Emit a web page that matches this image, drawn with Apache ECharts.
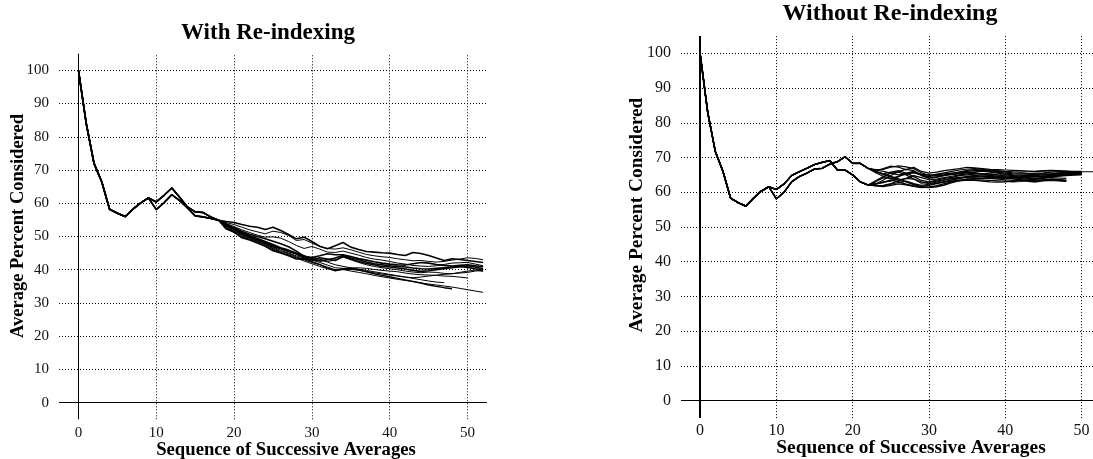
<!DOCTYPE html>
<html>
<head>
<meta charset="utf-8">
<script src="https://cdn.jsdelivr.net/npm/echarts@6/dist/echarts.min.js"></script>
<style>
html,body{margin:0;padding:0;background:#fff;}
#chart{width:1093px;height:459px;}
</style>
</head>
<body>
<div id="chart"></div>
<script>
// ---------- data ----------
const xTickValues = [0, 10, 20, 30, 40, 50];
const yTickValues = [0, 10, 20, 30, 40, 50, 60, 70, 80, 90, 100];

// Left panel: "With Re-indexing"
const leftCommon  = [100, 84, 72, 66.4, 58.2, 57, 56, 58.2, 60.1, 61.6];      // x = 0..9
const leftBranchA = [60.4, 62.4, 64.6, 61.8, 58.9, 57.4, 57.2, 55.9];          // x = 10..17
const leftBranchB = [58.1, 60.2, 62.6, 60.8, 58.6, 56.2, 55.9, 55.4];          // x = 10..17
// tails start at x = 18
const leftTail1  = [54.9,54.5,54.2,53.6,53.1,52.8,52.1,52.8,51.8,50.6,49.3,49.8,48.5,47.1,46.3,47.2,48.2,46.8,46.1,45.5,45.3,45.1,45,44.6,44.3,45.2,44.9,44.3,43.5,42.8,43.3,43.1,42.8,42.5,42.2];
const leftTail2  = [54.9,54.2,53.6,52.8,52,51.4,50.8,51.6,51.2,50.3,48.8,49.1,48,47,46.4,46.2,46.6,46,45.3,44.6,44.2,43.9,43.7,43.3,43,42.7,42.8,42.5,42.3,42.5,42.9,43.2,43.6,43.4,43];
const leftTail3  = [54.9,53.9,53,52,51.2,50.4,49.8,49.9,49.5,48.5,47.3,46.4,47,46.2,45.3,45.2,45.6,45,44.4,43.7,43.2,42.9,42.5,42,41.7,41.3,41.1,41,41.2,41.6,42,42.1,42.2,41.7,41.2];
const leftTail4  = [54.9,53.5,52.3,51.2,50.2,49.4,48.5,47.6,46.6,45.9,45,44.2,43.4,42.6,43,43.5,44.3,43.6,43,42.3,41.8,41.5,41.2,41,40.8,40.5,40.3,40.2,40.4,40.6,40.8,41,40.7,40.3,40];
const leftTail5  = [54.9,53.2,52,50.8,49.8,49,48.1,47,46.3,45.4,44.8,43.8,43,43.6,43.2,42.8,44,43.2,42.5,41.9,41.5,41,40.8,40.5,40.2,39.8,39.5,39.7,40,40.3,40.6,40.9,41.2,40.8,40.3];
const leftTail6  = [54.9,53,51.6,50.5,49.6,48.8,47.9,46.8,45.8,45,44.2,43.5,43.8,43.2,42.5,42.9,43.8,43,42.2,41.5,41,40.6,40.3,40,39.6,39.3,39.1,39.3,39.2,38.9,38.8,39.2,39.6,39.9,39.5];
const leftTail7  = [54.9,52.6,51.3,50,49.2,48.4,47.5,46.3,45.2,44.3,43.5,43,42.2,41.5,40.8,40,40,40.1,39.8,39.5,39.1,38.7,38.4,38.1,37.8,37.6,37.8,38.1,38.4,38.6,38.8,39,39.2,39.6,39.8];
const leftTail8  = [54.9,52.4,51.2,49.8,49,48.2,47.2,46,45.1,44.5,43.6,42.6,41.8,41,40.3,39.8,40.1,39.6,39.2,38.8,38.3,37.9,37.5,37.1,36.8,36.4,36,35.7,35.4,35.1,34.8,34.4,34,33.6,33.2];
const leftTail9  = [54.9,52.2,51.3,49.6,48.9,48,47,45.7,45,44.2,43.2,43.3,42.4,41.6,40.5,39.7,40.3,40.4,40,39.4,38.8,38.3,37.9,37.4,36.9,36.5,36,35.4,35,34.6,34.3];
const leftTail10 = [54.9,52.8,51.5,50.3,49.4,48.6,47.7,46.5,45.5,44.8,43.9,43.1,42.7,43,42.3,41.5,41,40.6,40.2,39.8,39.4,39,38.6,38.2,37.8,37.4,37,36.6,36.3,36.1];
const leftTail11 = [54.9,53.3,52.1,51,50,49.2,48.3,47.3,46.4,45.7,44.6,43.6,42.9,42.2,41.4,40.6,40.4,40.5,40.6,40.4,40.1,39.8,39.6,39.4,39,38.7,38.5,38.4,38.3,38.1,38,37.8,37.5];
const leftTail12 = [54.9,53.8,52.6,51.6,50.7,50,49.3,48.6,47.8,46.9,45.6,44,43.7,44.2,44.8,44.5,44.5,44,43.4,42.9,42.4,42,41.7,41.5,41.4,41.8,42.2,42,41.6,41.3,41.1,41.3,41.5,41.2,40.9];

// Right panel: "Without Re-indexing"
const rightCommon  = [100, 83, 71.7, 66, 58.3, 57, 56, 58.3, 60.3, 61.6];                       // x = 0..9
const rightBranchA = [60.8, 62.4, 64.8, 65.9, 66.9, 68, 68.6, 69.1, 66.4, 66.4, 65, 63];        // x = 10..21
const rightBranchB = [58.1, 60, 63, 64.5, 65.5, 66.7, 66.9, 68.1, 68.8, 70.2, 68.3, 68.3];      // x = 10..21
// tails start at x = 22
const rightTail1  = [66.9,66,65.2,64.5,63.8,63,62.2,61.5,61.4,61.6,62.1,62.8,63.4,63.8,63.9,64,64.2,64.1,64,64.2,64.4,64.3,64.5,64.7,64.8,65,65.2,65.5,65.6];
const rightTail2  = [66.9,66.2,66.8,67.5,67.2,66.5,67.2,66,65.5,65.8,66.2,66.5,66.8,67.2,67,66.8,66.6,66.5,66.4,66.3,66.2,66.1,66,66.1,66.2,66.1,66,65.9,65.9,65.9,65.9];
const rightTail3  = [62.1,62.3,63.5,64.8,66,66.6,66.2,65,64.5,65,65.3,65.5,65.7,66,66.2,66.4,66.2,66,65.8,65.6,65.5,65.4,65.5,65.6,65.8,65.9,65.8,65.6,65.5];
const rightTail4  = [62.1,62,61.8,62.3,62.8,63.2,62.5,62,62.3,62.6,62.9,63.2,63.5,63.7,63.6,63.5,63.4,63.3,63.2,63,63.1,63.3,63.5,63.6,63.5,63.4,63.3];
const rightTail5  = [62.1,63,64.2,64,63.5,64,64.8,64.2,63.6,63.8,64.2,64.6,65,65.3,65.5,65.4,65.3,65.1,65,64.8,64.6,64.5,64.4,64.5,64.7,64.9,65,65.3,65.4];
const rightTail6  = [62.1,62.5,63,63.2,64.5,65.5,66,64.8,64,64.3,64.8,65.2,65.5,65.8,65.6,65.2,64.9,64.6,64.4,64.3,64.2,64,63.8,64,64.2,64.1,64];
const rightTail7  = [66.9,66,65.3,65.8,66.2,65.5,64.5,63.4,63,63.5,64,64.3,64.8,65,65.2,65.3,65.2,64.9,64.7,64.5,64.7,65,65.2,65.3,65.4,65.6,65.7,65.8,65.7];
const rightTail8  = [62.1,61.9,62,62.5,63.3,64,63.8,63,62.5,62.9,63.5,64,64.3,64.4,64.2,64.1,64,63.8,63.6,63.4,63.4,63.6,63.9,64.2,64.5,64.7,64.9,65.1,65.2];
const rightTail9  = [66.9,66.4,66,65.5,65,65.3,65.8,65.2,65,64.8,65,65.4,65.9,66.3,66.5,66.3,66,65.7,65.5,65.3,65.2,65.2,65.3,65.2,65.1,65.3,65.5,65.6,65.6];
const rightTail10 = [62.1,62.4,62.8,63.5,63,62.3,61.8,61.6,62,62.5,63,63.5,64,64.5,64.8,64.6,64.5,64.3,64.1,63.9,63.6,63.2,63,63.3,63.5,63.3,63.2];
const rightTail11 = [66.9,66.5,66.6,67.2,67.6,67.3,66.8,65.6,64.8,65.2,65.6,66,66.4,66.7,66.8,66.6,66.3,66.2,66,65.9,65.8,65.9,66,66.2,66.3,66.2,66.1,66,66];
const rightTail12 = [62.1,61.8,61.6,62,62.4,62.1,61.7,61.3,61.5,61.9,62.5,63,63.3,63.5,63.4,63.2,63,62.9,63,63.2,63.4,63.5,63.4,63.6,63.8,63.7,63.5];
const rightTail13 = [66.9,65.6,64.6,64,64.6,65.2,65.6,65,64.2,64.5,64.9,65.1,65.3,65.6,65.9,66.1,65.8,65.5,65.2,65,64.9,64.8,64.8,65,65.2,65.4,65.5,65.7,65.8];
const rightTail14 = [62.1,63.3,64.5,65.5,65.8,65,63.8,62.6,62.8,63.2,63.6,63.9,64.2,64.3,64.5,64.7,64.8,64.6,64.4,64.1,63.9,63.7,63.9,64.2,64.4,64.6,64.8,64.9,65];

// ---------- build ----------
const FONT = "'Liberation Serif','Times New Roman',Times,serif";

function toXY(arr) { return arr.map((v, i) => [i, v]); }

const leftLines = [
  [leftBranchA, leftTail1, 1.6], [leftBranchB, leftTail2, 1.0], [leftBranchA, leftTail3, 1.0],
  [leftBranchB, leftTail4, 1.6], [leftBranchA, leftTail5, 1.6], [leftBranchB, leftTail6, 1.0],
  [leftBranchA, leftTail7, 1.0], [leftBranchB, leftTail8, 1.0], [leftBranchA, leftTail9, 1.4],
  [leftBranchB, leftTail10, 1.0], [leftBranchA, leftTail11, 1.0], [leftBranchB, leftTail12, 1.6]
];
const rightLines = [
  [rightBranchB, rightTail1, 1.6], [rightBranchB, rightTail2, 1.2], [rightBranchA, rightTail3, 1.2],
  [rightBranchA, rightTail4, 1.2], [rightBranchA, rightTail5, 1.2], [rightBranchA, rightTail6, 1.2],
  [rightBranchB, rightTail7, 1.2], [rightBranchA, rightTail8, 1.2], [rightBranchB, rightTail9, 1.2],
  [rightBranchA, rightTail10, 1.6], [rightBranchB, rightTail11, 1.2], [rightBranchA, rightTail12, 1.2],
  [rightBranchB, rightTail13, 1.2], [rightBranchA, rightTail14, 1.2]
];

function gridSeries(idx, yAxisWidth) {
  const dotted = { type: [1, 2], color: '#000', width: 1 };
  const data = [];
  yTickValues.filter(v => v !== 0).forEach(v => data.push({ yAxis: v, lineStyle: dotted }));
  xTickValues.filter(v => v !== 0).forEach(v => data.push({ xAxis: v, lineStyle: dotted }));
  data.push({ yAxis: 0, lineStyle: { type: 'solid', color: '#000', width: 1 } });
  data.push({ xAxis: 0, lineStyle: { type: 'solid', color: '#000', width: yAxisWidth } });
  return {
    type: 'line', xAxisIndex: idx, yAxisIndex: idx, data: [], z: 1, silent: true,
    markLine: { silent: true, symbol: ['none', 'none'], label: { show: false }, animation: false, data: data }
  };
}

function lineSeries(idx, common, lines) {
  return lines.map(([branch, tail, w]) => ({
    type: 'line', xAxisIndex: idx, yAxisIndex: idx, z: 3,
    data: toXY(common.concat(branch, tail)),
    showSymbol: false, symbol: 'none', silent: true,
    lineStyle: { color: '#000', width: w }
  }));
}

function xAxisDef(idx, fs, margin) {
  return {
    gridIndex: idx, type: 'value', min: -2.5, max: 52.5,
    axisLine: { show: false }, axisTick: { show: false }, splitLine: { show: false },
    axisLabel: { customValues: xTickValues, fontFamily: FONT, fontSize: fs, color: '#111', margin: margin }
  };
}
function yAxisDef(idx, fs, margin) {
  return {
    gridIndex: idx, type: 'value', min: -5, max: 105,
    axisLine: { show: false }, axisTick: { show: false }, splitLine: { show: false },
    axisLabel: { customValues: yTickValues, fontFamily: FONT, fontSize: fs, color: '#111', margin: margin,
                 verticalAlign: 'middle', padding: [0, 0, 8, 0] }
  };
}

function txt(x, y, text, size, rot) {
  return {
    type: 'text', x: x, y: y, rotation: rot || 0, silent: true,
    style: { text: text, x: 0, y: 0, font: 'bold ' + size + 'px ' + FONT, fill: '#000',
             textAlign: 'center', textVerticalAlign: 'middle' }
  };
}

const option = {
  backgroundColor: '#fff',
  animation: false,
  grid: [
    { left: 59, top: 53.7, width: 428, height: 365.6, outerBoundsMode: 'none', containLabel: false },
    { left: 681, top: 35.9, width: 419.7, height: 382.2, outerBoundsMode: 'none', containLabel: false }
  ],
  xAxis: [xAxisDef(0, 15, 6), xAxisDef(1, 16, 5)],
  yAxis: [yAxisDef(0, 15, 10), yAxisDef(1, 16, 10)],
  graphic: [
    txt(268, 33, 'With Re-indexing', 23),
    txt(286, 450, 'Sequence of Successive Averages', 18.7),
    txt(18, 226, 'Average Percent Considered', 18.5, Math.PI / 2),
    txt(890, 14, 'Without Re-indexing', 24),
    txt(911, 448, 'Sequence of Successive Averages', 19.4),
    txt(637, 215, 'Average Percent Considered', 19.4, Math.PI / 2)
  ],
  series: [gridSeries(0, 1), gridSeries(1, 2)]
    .concat(lineSeries(0, leftCommon, leftLines))
    .concat(lineSeries(1, rightCommon, rightLines))
};

const chart = echarts.init(document.getElementById('chart'), null, { renderer: 'canvas' });
chart.setOption(option);
</script>
</body>
</html>
